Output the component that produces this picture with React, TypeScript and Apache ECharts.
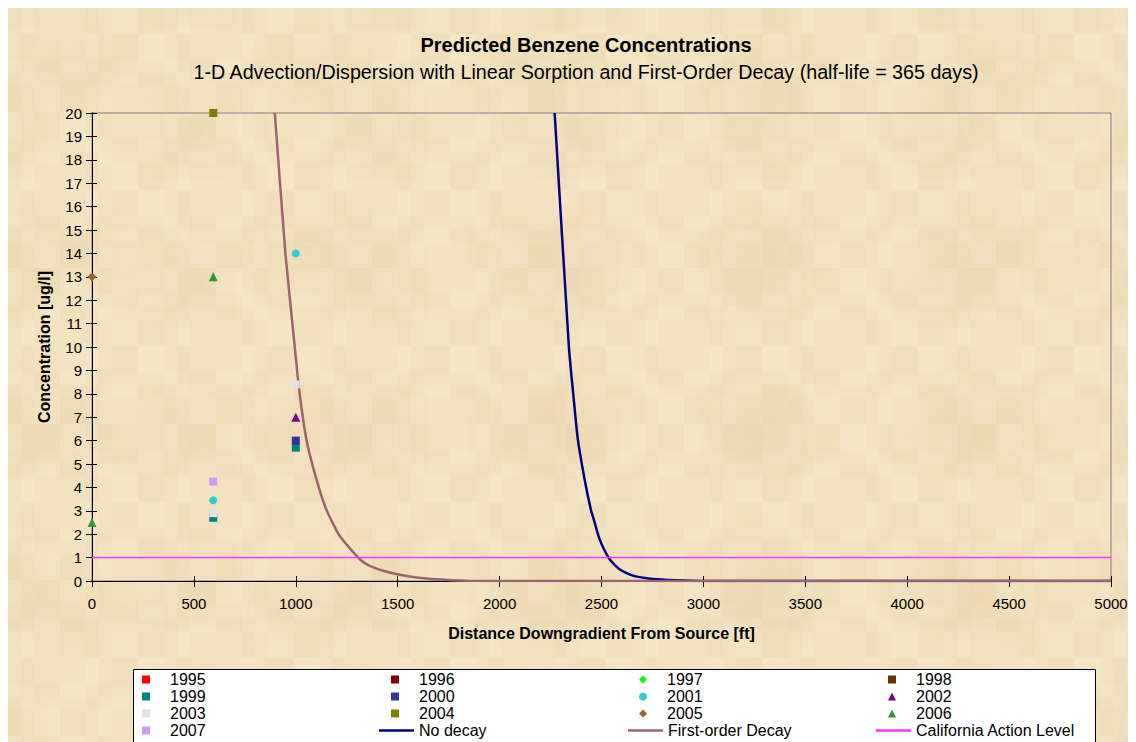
import React, { useEffect, useRef } from "react";
import * as echarts from "echarts";

// Axis ranges
const xMin = 0;
const xMax = 5000;
const xStep = 500;
const yMin = 0;
const yMax = 20;
const yStep = 1;

// Observed benzene concentrations [distance ft, concentration ug/l]
const obs1995: [number, number][] = [];
const obs1996: [number, number][] = [];
const obs1997: [number, number][] = [];
const obs1998: [number, number][] = [];
const obs1999: [number, number][] = [[595, 2.7], [1000, 5.7]];
const obs2000: [number, number][] = [[1000, 6.0]];
const obs2001: [number, number][] = [[595, 3.45], [1000, 14]];
const obs2002: [number, number][] = [[1000, 7]];
const obs2003: [number, number][] = [[595, 2.9], [1000, 8.4]];
const obs2004: [number, number][] = [[595, 20]];
const obs2005: [number, number][] = [[0, 13]];
const obs2006: [number, number][] = [[0, 2.5], [595, 13]];
const obs2007: [number, number][] = [[595, 4.25]];

// Model curve: no decay
const noDecayX = [2270, 2340, 2359, 2384, 2417, 2449, 2460, 2490, 2539, 2588, 2654, 2752, 2866, 3000, 4000, 5000];
const noDecayY = [20, 10.0, 8.2, 6.05, 4.35, 3.0, 2.7, 1.8, 0.94, 0.5, 0.23, 0.085, 0.03, 0, 0, 0];

// Model curve: first-order decay
const firstOrderX = [897, 949, 995, 1016, 1052, 1101, 1150, 1216, 1314, 1363, 1461, 1559, 1706, 1850, 2000, 3000, 4000, 5000];
const firstOrderY = [20, 14.0, 10.0, 8.2, 6.05, 4.35, 3.05, 1.92, 0.93, 0.65, 0.36, 0.19, 0.06, 0.01, 0, 0, 0, 0];

// Regulatory threshold
const actionLevelX = [0, 5000];
const actionLevelY = [1, 1];

const FONT = "'Liberation Sans', Arial, Helvetica, sans-serif";

type Marker = { name: string; data: [number, number][]; color: string; symbol: string; size: number };

const markers: Marker[] = [
  { name: "1995", data: obs1995, color: "#ff0000", symbol: "rect", size: 8 },
  { name: "1996", data: obs1996, color: "#800000", symbol: "rect", size: 8 },
  { name: "1997", data: obs1997, color: "#00ff00", symbol: "diamond", size: 9 },
  { name: "1998", data: obs1998, color: "#663300", symbol: "rect", size: 8 },
  { name: "1999", data: obs1999, color: "#008080", symbol: "rect", size: 8 },
  { name: "2000", data: obs2000, color: "#333399", symbol: "rect", size: 8 },
  { name: "2001", data: obs2001, color: "#33cccc", symbol: "circle", size: 8 },
  { name: "2002", data: obs2002, color: "#800080", symbol: "triangle", size: 9 },
  { name: "2003", data: obs2003, color: "#e3e3e3", symbol: "rect", size: 8 },
  { name: "2004", data: obs2004, color: "#808000", symbol: "rect", size: 8 },
  { name: "2005", data: obs2005, color: "#996633", symbol: "diamond", size: 9 },
  { name: "2006", data: obs2006, color: "#339933", symbol: "triangle", size: 9 },
  { name: "2007", data: obs2007, color: "#cc99ff", symbol: "rect", size: 8 },
];

const zip = (xs: number[], ys: number[]) => xs.map((x, i) => [x, ys[i]]);

// Legend layout: four columns of markers, with the model lines in the last row
const markerColumns = [
  ["1995", "1999", "2003", "2007"],
  ["1996", "2000", "2004"],
  ["1997", "2001", "2005"],
  ["1998", "2002", "2006"],
];
const lineEntries = ["No decay", "First-order Decay", "California Action Level"];
const markerLegendLefts = [134, 383, 631, 880];
const lineLegendLefts = [371, 620, 868];
const LEGEND_TOP = 663;
const ROW = 17;

export default function App() {
  const ref = useRef<HTMLDivElement>(null);

  useEffect(() => {
    document.body.style.overflow = "hidden";
    document.documentElement.style.overflow = "hidden";
    const chart = echarts.init(ref.current!, undefined, { renderer: "svg" });

    const axisBase = {
      axisLine: { show: true, onZero: false, lineStyle: { color: "#000", width: 1 } },
      splitLine: { show: false },
    };
    const legendText = { fontFamily: FONT, fontSize: 16, color: "#000", lineHeight: ROW };

    const option: any = {
      animation: false,
      backgroundColor: "transparent",
      textStyle: { fontFamily: FONT, color: "#000" },
      title: {
        text: "Predicted Benzene Concentrations",
        subtext: "1-D Advection/Dispersion with Linear Sorption and First-Order Decay (half-life = 365 days)",
        left: 573,
        top: 22,
        textAlign: "center",
        itemGap: 7,
        textStyle: { fontFamily: FONT, fontSize: 20, fontWeight: "bold", color: "#000" },
        subtextStyle: { fontFamily: FONT, fontSize: 19.7, color: "#000" },
      },
      grid: {
        left: 84,
        top: 105,
        width: 1019,
        height: 468,
        show: true,
        borderColor: "#808080",
        borderWidth: 1,
        backgroundColor: "transparent",
      },
      xAxis: [
        {
          ...axisBase,
          type: "value",
          min: xMin,
          max: xMax,
          interval: xStep,
          name: "Distance Downgradient From Source [ft]",
          nameLocation: "middle",
          nameGap: 44,
          nameTextStyle: { fontFamily: FONT, fontSize: 16, fontWeight: "bold", color: "#000" },
          axisTick: { show: true, length: 6, inside: false, lineStyle: { color: "#000" } },
          axisLabel: { fontFamily: FONT, fontSize: 15, color: "#000", margin: 15, formatter: (v: number) => String(v) },
        },
        {
          ...axisBase,
          type: "value",
          position: "bottom",
          min: xMin,
          max: xMax,
          interval: xStep,
          axisTick: { show: true, length: 5, inside: true, lineStyle: { color: "#000" } },
          axisLabel: { show: false },
        },
      ],
      yAxis: [
        {
          ...axisBase,
          type: "value",
          min: yMin,
          max: yMax,
          interval: yStep,
          name: "Concentration [ug/l]",
          nameLocation: "middle",
          nameGap: 40,
          nameTextStyle: { fontFamily: FONT, fontSize: 16, fontWeight: "bold", color: "#000" },
          axisTick: { show: true, length: 6, inside: false, lineStyle: { color: "#000" } },
          axisLabel: { fontFamily: FONT, fontSize: 15, color: "#000", margin: 10 },
        },
        {
          ...axisBase,
          type: "value",
          position: "left",
          min: yMin,
          max: yMax,
          interval: yStep,
          axisTick: { show: true, length: 5, inside: true, lineStyle: { color: "#000" } },
          axisLabel: { show: false },
        },
      ],
      legend: [
        ...markerColumns.map((col, i) => ({
          data: col,
          orient: "vertical",
          left: markerLegendLefts[i],
          top: LEGEND_TOP,
          padding: 0,
          itemGap: 0,
          itemWidth: 8,
          itemHeight: 8,
          selectedMode: false,
          textStyle: { ...legendText, padding: [0, 0, 0, 15] },
        })),
        ...lineEntries.map((name, i) => ({
          data: [{ name, icon: "rect" }],
          orient: "vertical",
          left: lineLegendLefts[i],
          top: LEGEND_TOP + ROW * 3,
          padding: 0,
          itemGap: 0,
          itemWidth: 35,
          itemHeight: 2.5,
          selectedMode: false,
          textStyle: legendText,
        })),
      ],
      graphic: [
        {
          type: "rect",
          left: 125,
          top: 661,
          shape: { width: 962, height: 90 },
          style: { fill: "#ffffff", stroke: "#000000", lineWidth: 1 },
          z: 0,
        },
      ],
      series: [
        {
          name: "No decay",
          type: "line",
          data: zip(noDecayX, noDecayY),
          symbol: "none",
          smooth: 0.2,
          lineStyle: { color: "#000080", width: 2.5 },
          itemStyle: { color: "#000080" },
          z: 3,
        },
        {
          name: "First-order Decay",
          type: "line",
          data: zip(firstOrderX, firstOrderY),
          symbol: "none",
          smooth: 0.2,
          lineStyle: { color: "#996670", width: 2.5 },
          itemStyle: { color: "#996670" },
          z: 3,
        },
        {
          name: "California Action Level",
          type: "line",
          data: zip(actionLevelX, actionLevelY),
          symbol: "none",
          lineStyle: { color: "#ff33ff", width: 1.5 },
          itemStyle: { color: "#ff33ff" },
          z: 3,
        },
        ...markers.map((m) => ({
          name: m.name,
          type: "scatter",
          data: m.data,
          symbol: m.symbol,
          symbolSize: m.size,
          itemStyle: { color: m.color, opacity: 1 },
          z: 4,
        })),
      ],
    };

    chart.setOption(option);
    return () => chart.dispose();
  }, []);

  // Parchment backdrop: faint blocky mottling over a warm base colour
  const texture = [
    "repeating-conic-gradient(rgba(228,196,150,0.08) 0 25%, rgba(255,255,255,0) 0 50%)",
    "repeating-conic-gradient(rgba(255,250,232,0.12) 0 25%, rgba(255,255,255,0) 0 50%)",
    "radial-gradient(ellipse 90px 60px at 30% 35%, rgba(218,182,130,0.14), rgba(218,182,130,0) 100%)",
    "radial-gradient(ellipse 70px 80px at 75% 70%, rgba(210,176,128,0.12), rgba(210,176,128,0) 100%)",
  ].join(",");

  return (
    <div
      ref={ref}
      style={{
        width: 1128,
        height: 734,
        backgroundColor: "#f2e2c0",
        backgroundImage: texture,
        backgroundSize: "52px 52px, 78px 78px, 230px 180px, 190px 150px",
        backgroundPosition: "0 0, 13px 26px, 0 0, 40px 20px",
      }}
    />
  );
}
